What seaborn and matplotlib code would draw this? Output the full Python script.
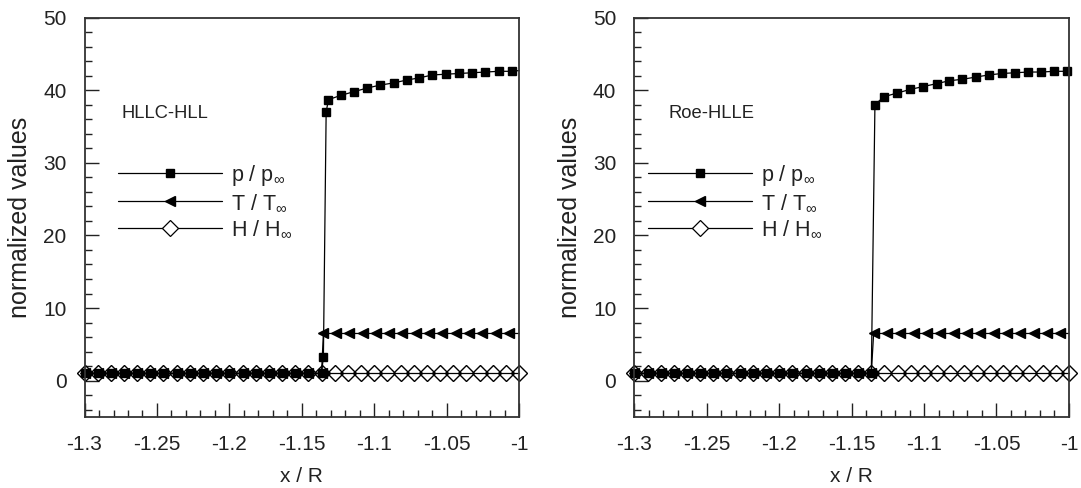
import numpy as np
import matplotlib
matplotlib.use("Agg")
import matplotlib.pyplot as plt
from matplotlib.lines import Line2D
from matplotlib.ticker import MultipleLocator, FuncFormatter
import seaborn as sns

sns.set_style("ticks")
plt.rcParams["font.family"] = ["Liberation Sans", "DejaVu Sans"]
plt.rcParams["mathtext.fontset"] = "custom"
plt.rcParams["mathtext.rm"] = "Liberation Sans"
plt.rcParams["mathtext.it"] = "Liberation Sans:italic"
plt.rcParams["axes.unicode_minus"] = False

# ---- data -------------------------------------------------------------
# upstream (pre-shock) sample positions, shared by all series
x_pre = [-1.3000, -1.2909, -1.2818, -1.2727, -1.2636, -1.2545, -1.2455,
         -1.2364, -1.2273, -1.2182, -1.2091, -1.2000, -1.1909, -1.1818,
         -1.1727, -1.1636, -1.1545, -1.1455, -1.1364]
y_pre = [1.0] * len(x_pre)

# total enthalpy samples (whole domain)
x_h = x_pre + [-1.1273, -1.1182, -1.1091, -1.1000, -1.0909, -1.0818,
               -1.0727, -1.0636, -1.0545, -1.0455, -1.0364, -1.0273,
               -1.0182, -1.0091, -1.0000]
h_vals = [1.0] * len(x_h)

# HLLC-HLL scheme
hllc_p_x = x_pre + [-1.1351, -1.1332, -1.1316, -1.1229, -1.1139, -1.1049,
                    -1.0959, -1.0867, -1.0775, -1.0688, -1.0598, -1.0506,
                    -1.0416, -1.0324, -1.0232, -1.0142, -1.0052, -1.0000]
hllc_p = y_pre + [3.3, 37.0, 38.7, 39.3, 39.8, 40.3, 40.7, 41.0, 41.4,
                  41.7, 42.1, 42.2, 42.3, 42.4, 42.5, 42.6, 42.6, 42.7]
hllc_t_x = x_pre + [-1.1351, -1.1263, -1.1171, -1.1081, -1.0989, -1.0897,
                    -1.0805, -1.0713, -1.0621, -1.0529, -1.0437, -1.0345,
                    -1.0253, -1.0160, -1.0073, -1.0000]
hllc_t = y_pre + [6.5] * 16

# Roe-HLLE scheme
roe_p_x = x_pre + [-1.1339, -1.1277, -1.1187, -1.1097, -1.1006, -1.0913,
                   -1.0826, -1.0736, -1.0644, -1.0554, -1.0462, -1.0371,
                   -1.0281, -1.0191, -1.0101, -1.0016]
roe_p = y_pre + [38.0, 39.1, 39.6, 40.1, 40.5, 40.9, 41.3, 41.5, 41.8,
                 42.1, 42.3, 42.4, 42.5, 42.5, 42.6, 42.6]
roe_t_x = x_pre + [-1.1348, -1.1256, -1.1164, -1.1072, -1.0980, -1.0888,
                   -1.0796, -1.0704, -1.0612, -1.0520, -1.0428, -1.0336,
                   -1.0244, -1.0152, -1.0060, -1.0000]
roe_t = y_pre + [6.5] * 16

panel_titles = ["HLLC-HLL", "Roe-HLLE"]
legend_labels = [r"p / p$_\infty$", r"T / T$_\infty$", r"H / H$_\infty$"]

panels = [
    dict(title=panel_titles[0], p=(hllc_p_x, hllc_p, True), t=(hllc_t_x, hllc_t, True),
         tpos=(0.084, 0.761), lpos=(0.077, 0.636)),
    dict(title=panel_titles[1], p=(roe_p_x, roe_p, False), t=(roe_t_x, roe_t, True),
         tpos=(0.078, 0.761), lpos=(0.031, 0.636)),
]

# ---- figure -----------------------------------------------------------
fig = plt.figure(figsize=(10.81, 4.88), dpi=100)
axes_rects = [[0.0782, 0.1455, 0.402, 0.8185], [0.5868, 0.1455, 0.402, 0.8185]]

INK = "#222222"
line_kw = dict(color="black", linewidth=0.9, estimator=None, sort=False,
               markeredgecolor="black", markeredgewidth=1.0, clip_on=False)
MS_SQ, MS_TRI, MS_DIA = 6.2, 7.8, 8.0

for rect, pan in zip(axes_rects, panels):
    ax = fig.add_axes(rect)

    # enthalpy: open diamonds
    sns.lineplot(x=x_h, y=h_vals, ax=ax, marker="D", markersize=MS_DIA,
                 markerfacecolor="none", **line_kw)

    # temperature: filled left triangles
    tx, ty, t_tail = pan["t"]
    t_marks = list(range(len(tx) - 1)) if t_tail else list(range(len(tx)))
    sns.lineplot(x=tx, y=ty, ax=ax, marker="<", markersize=MS_TRI,
                 markerfacecolor="black", markevery=t_marks, **line_kw)

    # pressure: filled squares
    px, py, p_tail = pan["p"]
    p_marks = list(range(len(px) - 1)) if p_tail else list(range(len(px)))
    sns.lineplot(x=px, y=py, ax=ax, marker="s", markersize=MS_SQ,
                 markerfacecolor="black", markevery=p_marks, **line_kw)

    ax.set_xlim(-1.3, -1.0)
    ax.set_ylim(-5, 50)
    ax.xaxis.set_major_locator(MultipleLocator(0.05))
    ax.xaxis.set_minor_locator(MultipleLocator(0.01))
    ax.yaxis.set_major_locator(MultipleLocator(10))
    ax.yaxis.set_minor_locator(MultipleLocator(2))
    ax.xaxis.set_major_formatter(FuncFormatter(lambda v, _: f"{v:g}"))
    ax.yaxis.set_major_formatter(FuncFormatter(lambda v, _: f"{v:g}"))
    ax.tick_params(which="both", direction="in", top=False, right=False,
                   color="#222222", width=1.0)
    ax.tick_params(which="major", length=10, labelsize=15, labelcolor=INK)
    ax.tick_params(axis="x", which="major", pad=13)
    ax.tick_params(axis="y", which="major", pad=13)
    ax.tick_params(which="minor", length=4.7)
    for s in ax.spines.values():
        s.set_color("#333333")
        s.set_linewidth(1.3)

    ax.set_xlabel("x / R", fontsize=15, color=INK, labelpad=9)
    ax.set_ylabel("normalized values", fontsize=18, color=INK, labelpad=8)

    ax.text(pan["tpos"][0], pan["tpos"][1], pan["title"], transform=ax.transAxes,
            fontsize=13.2, color=INK, ha="left", va="center")

    handles = [
        Line2D([], [], color="black", lw=0.9, marker="s", ms=MS_SQ,
               mfc="black", mec="black"),
        Line2D([], [], color="black", lw=0.9, marker="<", ms=MS_TRI,
               mfc="black", mec="black"),
        Line2D([], [], color="black", lw=0.9, marker="D", ms=8,
               mfc="white", mec="black", mew=0.9),
    ]
    ax.legend(handles, legend_labels, loc="upper left",
              bbox_to_anchor=pan["lpos"], frameon=False, fontsize=15.5,
              handlelength=4.85, handletextpad=0.42, labelspacing=0.21,
              borderpad=0, borderaxespad=0, numpoints=1, labelcolor=INK)

fig.savefig("out.png", dpi=100)
